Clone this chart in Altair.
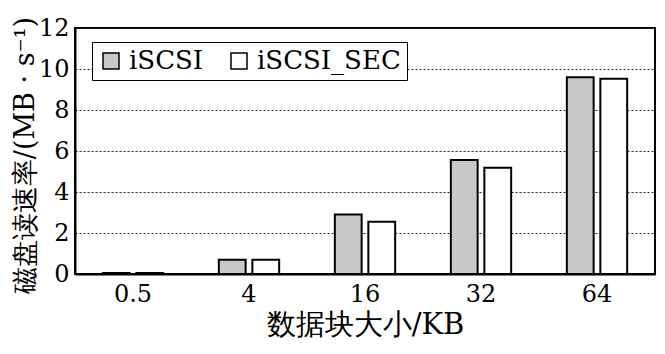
import altair as alt
import pandas as pd

sizes = ["0.5", "4", "16", "32", "64"]
series = ["iSCSI", "iSCSI_SEC"]
iscsi = [0.05, 0.70, 2.90, 5.56, 9.60]
iscsi_sec = [0.05, 0.70, 2.55, 5.18, 9.52]
y_ticks = [0, 2, 4, 6, 8, 10, 12]
colors = ["#c8c8c8", "#ffffff"]

rows = []
for s, a, b in zip(sizes, iscsi, iscsi_sec):
    rows.append({"size": s, "series": series[0], "rate": a})
    rows.append({"size": s, "series": series[1], "rate": b})
df = pd.DataFrame(rows)

serif = "DejaVu Serif"

chart = alt.Chart(df).mark_bar(stroke="black", strokeWidth=2).encode(
    x=alt.X(
        "size:N", sort=sizes,
        scale=alt.Scale(paddingInner=0.48, paddingOuter=0.24),
        axis=alt.Axis(
            title="数据块大小/KB", labelAngle=0, ticks=False,
            domainColor="black", domainWidth=2,
            labelFont=serif, labelFontSize=24, labelColor="black", labelPadding=8,
            titleFont=serif, titleFontSize=29, titleFontWeight="normal",
            titleColor="black", titlePadding=4,
        ),
    ),
    xOffset=alt.XOffset("series:N", sort=series,
                        scale=alt.Scale(paddingInner=0.2, paddingOuter=0)),
    y=alt.Y(
        "rate:Q",
        scale=alt.Scale(domain=[0, 12], nice=False),
        axis=alt.Axis(
            values=y_ticks, title="磁盘读速率/(MB · s⁻¹)", ticks=False,
            grid=True, gridDash=[2, 2], gridColor="#222222", gridWidth=1,
            domainColor="black", domainWidth=2,
            labelFont=serif, labelFontSize=24, labelColor="black", labelPadding=6,
            titleFont=serif, titleFontSize=27, titleFontWeight="normal",
            titleColor="black", titleX=-50, titleY=127, titleAngle=270,
            titleAlign="center", titleBaseline="middle",
        ),
    ),
    fill=alt.Fill(
        "series:N", sort=series,
        scale=alt.Scale(domain=series, range=colors),
        legend=alt.Legend(
            title=None, orient="none", legendX=17, legendY=14,
            direction="horizontal", strokeColor="black", fillColor="white",
            padding=6, columnPadding=22, labelOffset=5,
            symbolType="square", symbolSize=256, symbolStrokeColor="black",
            symbolStrokeWidth=1.5, symbolOpacity=1,
            labelFont=serif, labelFontSize=26, labelColor="black",
        ),
    ),
).properties(
    width=580, height=246,
    padding={"left": 67, "top": 20, "right": 2, "bottom": 72},
    autosize=alt.AutoSizeParams(type="none"),
).configure_view(stroke="black", strokeWidth=2)

chart.save("out.html", embed_options={"renderer": "svg", "actions": False})
